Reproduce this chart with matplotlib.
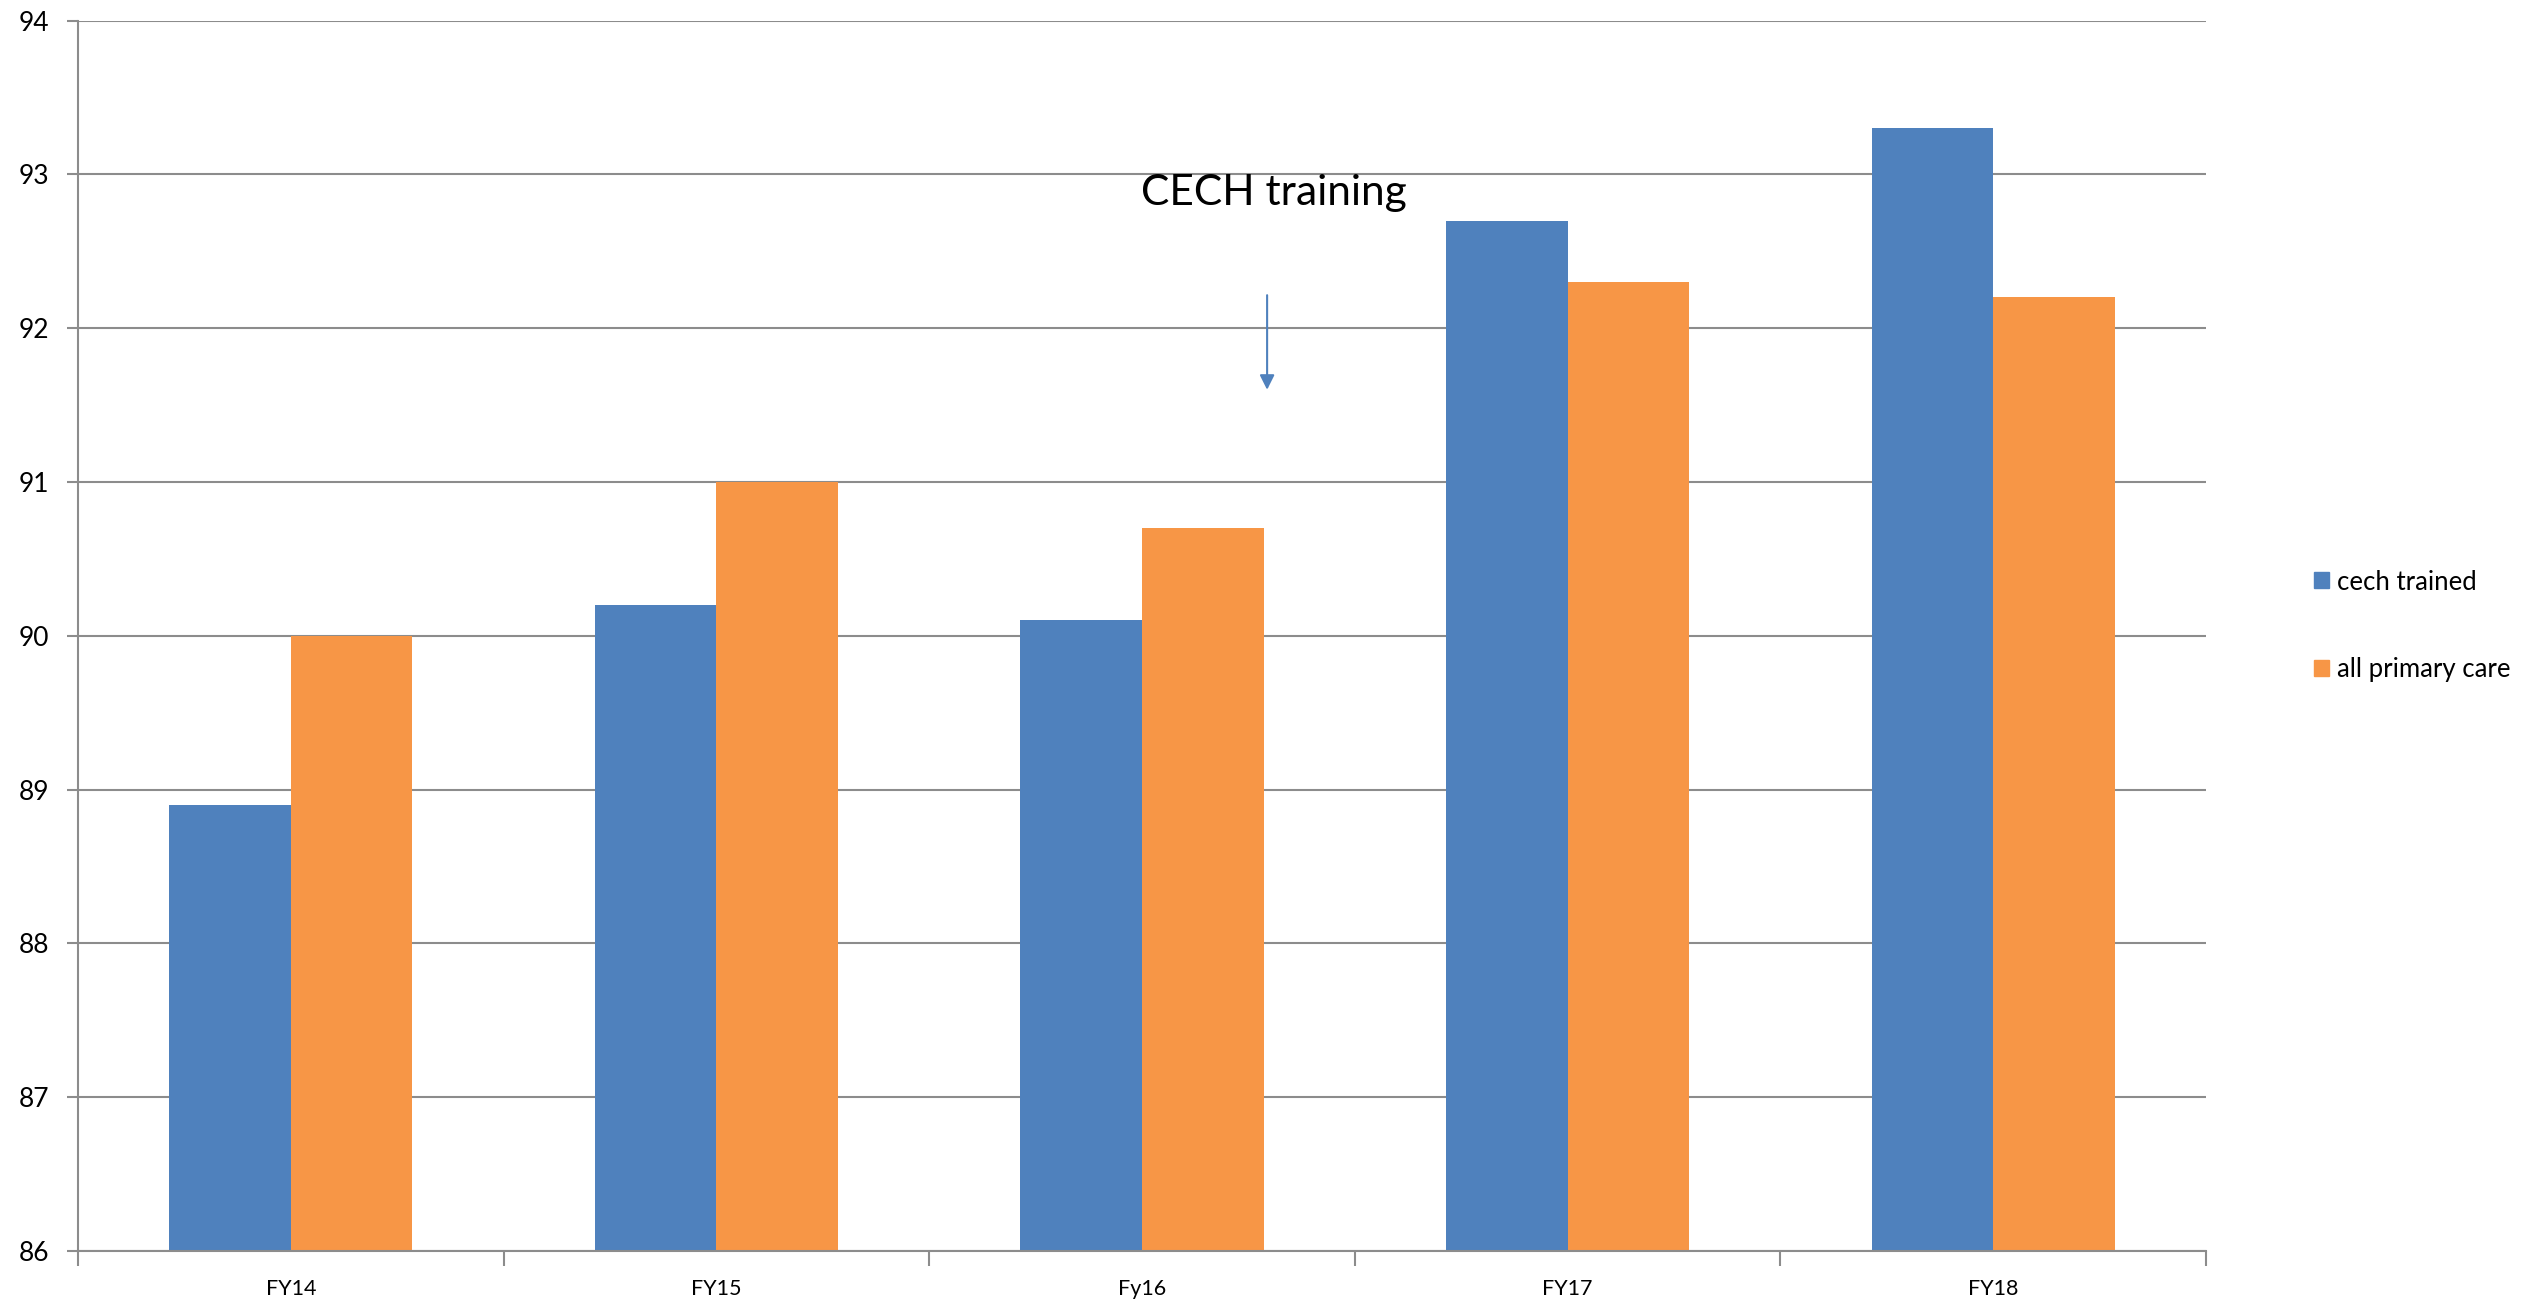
import numpy as np
import matplotlib
matplotlib.use("Agg")
import matplotlib.pyplot as plt
from matplotlib.patches import Patch

plt.rcParams['font.family'] = ['Lato', 'DejaVu Sans']

# fiscal years and the two series
years = ['FY14', 'FY15', 'Fy16', 'FY17', 'FY18']
cech_trained = [88.9, 90.2, 90.1, 92.7, 93.3]
all_primary_care = [90.0, 91.0, 90.7, 92.3, 92.2]
series_names = ['cech trained', 'all primary care']
yticks = [86, 87, 88, 89, 90, 91, 92, 93, 94]

blue = '#4F81BD'
orange = '#F79646'
grey = '#8C8C8C'

fig = plt.figure(figsize=(25.24, 13.0), dpi=100)
ax = fig.add_axes([0.0309, 0.0377, 0.8431, 0.9464])

x = np.arange(len(years))
w = 1 / 3.5  # two bars + 150% gap
base = yticks[0]
ax.bar(x - w / 2, np.array(cech_trained) - base, w, bottom=base,
       color=blue, zorder=3, linewidth=0)
ax.bar(x + w / 2, np.array(all_primary_care) - base, w, bottom=base,
       color=orange, zorder=3, linewidth=0)

ax.set_xlim(-0.5, len(years) - 0.5)
ax.set_ylim(yticks[0], yticks[-1])
ax.set_yticks(yticks)
ax.tick_params(axis='y', length=8, width=1.5, color=grey, pad=13, labelsize=19)

# category boundaries get tick marks, names sit between them
ax.set_xticks(np.arange(len(years) + 1) - 0.5)
ax.set_xticklabels([])
ax.set_xticks(x, minor=True)
ax.set_xticklabels(years, minor=True)
ax.tick_params(axis='x', which='major', length=11, width=1.5, color=grey)
ax.tick_params(axis='x', which='minor', length=0, pad=20, labelsize=15.5)

ax.yaxis.grid(True, color=grey, linewidth=1.5, zorder=0)
ax.set_axisbelow(True)
for s in ['top', 'right']:
    ax.spines[s].set_visible(False)
for s in ['left', 'bottom']:
    ax.spines[s].set_color(grey)
    ax.spines[s].set_linewidth(1.5)
    ax.spines[s].set_zorder(4)

# marker for when the training started
ax.text(2.31, 92.8, 'CECH training', ha='center', va='baseline', fontsize=30.5)
ax.annotate('', xy=(2.294, 91.6), xytext=(2.294, 92.215),
            arrowprops=dict(arrowstyle='-|>', color=blue, lw=1.5,
                            mutation_scale=22, shrinkA=0, shrinkB=0))

handles = [Patch(color=blue), Patch(color=orange)]
ax.legend(handles, series_names, loc='center left',
          bbox_to_anchor=(1.04, 0.508), frameon=False, fontsize=18.5,
          handlelength=0.58, handleheight=0.58, handletextpad=0.3,
          labelspacing=2.45)

fig.savefig('out.png', dpi=100)
